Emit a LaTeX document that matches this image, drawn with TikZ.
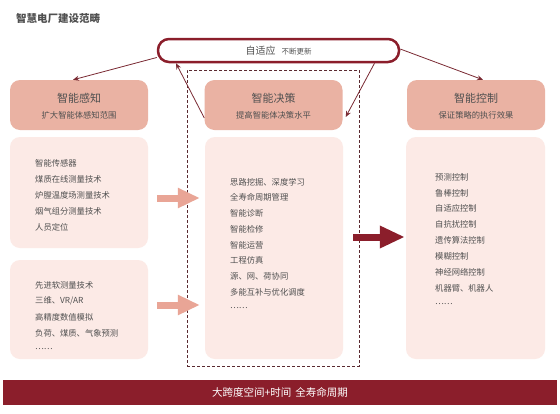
\documentclass[tikz,border=0pt]{standalone}
\usepackage{fontspec}
\setmainfont{Noto Sans CJK SC}
\usetikzlibrary{arrows.meta}
\definecolor{darkred}{HTML}{8B1E2B}
\definecolor{linered}{HTML}{7A2A33}
\definecolor{framecol}{HTML}{5A2A30}
\definecolor{headfill}{HTML}{EAB2A3}
\definecolor{boxfill}{HTML}{FCEAE6}
\definecolor{txt}{HTML}{505050}
\definecolor{pinkarrow}{HTML}{E9A596}
\tikzset{
  headbox/.style={fill=headfill, rounded corners=10pt, draw=none, minimum width=138pt, minimum height=50pt, inner sep=0pt},
  contbox/.style={fill=boxfill, rounded corners=10pt, draw=none, inner sep=0pt},
  headtitle/.style={font=\fontsize{11}{13}\selectfont, text=txt, inner sep=0pt},
  headsub/.style={font=\fontsize{8.3}{10}\selectfont, text=txt, inner sep=0pt},
  item/.style={font=\fontsize{8.3}{10}\selectfont, text=txt, anchor=west, inner sep=0pt},
  thinarrow/.style={draw=linered, line width=0.8pt, -{Stealth[length=6pt,width=5pt]}},
  pinkblock/.style={draw=pinkarrow, line width=7pt, -{Triangle[length=22pt,width=19pt]}},
  redblock/.style={draw=darkred, line width=7pt, -{Triangle[length=25pt,width=21pt]}},
}
\begin{document}
\begin{tikzpicture}[x=1pt,y=-1pt]
\useasboundingbox (0,0) rectangle (560,413);
\fill[white] (0,0) rectangle (560,413);
% title
\node[anchor=west, inner sep=0pt, text=txt, font=\fontsize{10.5}{12}\selectfont\bfseries] (title) at (16,18) {智慧电厂建设范畴};
% content boxes
\node[contbox, minimum width=138pt, minimum height=111pt] (c1) at (79,192.5) {};
\node[contbox, minimum width=138pt, minimum height=99pt] (c2) at (79,309.5) {};
\node[contbox, minimum width=138pt, minimum height=222pt] (c3) at (274,248) {};
\node[contbox, minimum width=139pt, minimum height=222pt] (c4) at (475.5,248) {};
% headers
\node[headbox] (h1) at (79,105) {};
\node[headbox] (h2) at (273.5,105) {};
\node[headbox] (h3) at (476,105) {};
\node[headtitle] (h1t) at (79,98) {智能感知};
\node[headsub] (h1s) at (79,115.5) {扩大智能体感知范围};
\node[headtitle] (h2t) at (273.5,98) {智能决策};
\node[headsub] (h2s) at (273.5,115.5) {提高智能体决策水平};
\node[headtitle] (h3t) at (476,98) {智能控制};
\node[headsub] (h3s) at (476,115.5) {保证策略的执行效果};
% dashed frame
\node[draw=framecol, dashed, dash pattern=on 3pt off 2pt, line width=0.9pt, minimum width=172pt, minimum height=296pt, inner sep=0pt] (frame) at (273,218) {};
% top box
\node[draw=darkred, line width=2.5pt, fill=white, rounded corners=11pt, minimum width=241pt, minimum height=23pt, inner sep=0pt] (top) at (278.5,50.5)
  {\fontsize{10}{12}\selectfont\color{txt}自适应\hspace{6pt}\fontsize{7.5}{9}\selectfont 不断更新};
% list items
\foreach \t [count=\i from 0] in {智能传感器,煤质在线测量技术,炉膛温度场测量技术,烟气组分测量技术,人员定位}
  \node[item] (l1-\i) at (35,163+16*\i) {\t};
\foreach \t [count=\i from 0] in {先进软测量技术,三维、VR/AR,高精度数值模拟,负荷、煤质、气象预测,……}
  \node[item] (l2-\i) at (35,285+16*\i) {\t};
\foreach \t [count=\i from 0] in {思路挖掘、深度学习,全寿命周期管理,智能诊断,智能检修,智能运营,工程仿真,源、网、荷协同,多能互补与优化调度,……}
  \node[item] (m-\i) at (230,182+15.75*\i) {\t};
\foreach \t [count=\i from 0] in {预测控制,鲁棒控制,自适应控制,自抗扰控制,遗传算法控制,模糊控制,神经网络控制,机器臂、机器人,……}
  \node[item] (r-\i) at (435,177+15.9*\i) {\t};
% block arrows
\coordinate (p1s) at ([xshift=9pt]c1.east |- 0,198);
\coordinate (p1e) at ([xshift=-5pt]c3.west |- 0,198);
\coordinate (p2s) at ([xshift=9pt]c2.east |- 0,305);
\coordinate (p2e) at ([xshift=-5pt]c3.west |- 0,305);
\coordinate (qs) at ([xshift=10pt]c3.east |- 0,237);
\coordinate (qe) at ([xshift=-1pt]c4.west |- 0,237);
\draw[pinkblock] (p1s) -- (p1e);
\draw[pinkblock] (p2s) -- (p2e);
\draw[redblock] (qs) -- (qe);
% thin arrows
\draw[thinarrow] ([yshift=-7pt]top.west) -- ([xshift=-6pt]h1.north);
\draw[thinarrow] ([yshift=1.5pt]top.east) -- ([xshift=7pt]h3.north);
\draw[thinarrow] ([xshift=96pt]top.south) -- ([xshift=3pt,yshift=-12pt]h2.east);
\draw[thinarrow] ([yshift=-13pt]h2.west) -- ([xshift=-102.5pt]top.south);
% bottom bar
\node[fill=darkred, minimum width=554pt, minimum height=25pt, inner sep=0pt, text=white, font=\fontsize{10.5}{12}\selectfont] (bar) at (280,392.5) {大跨度空间+时间\hspace{4pt}全寿命周期};
\end{tikzpicture}
\end{document}
